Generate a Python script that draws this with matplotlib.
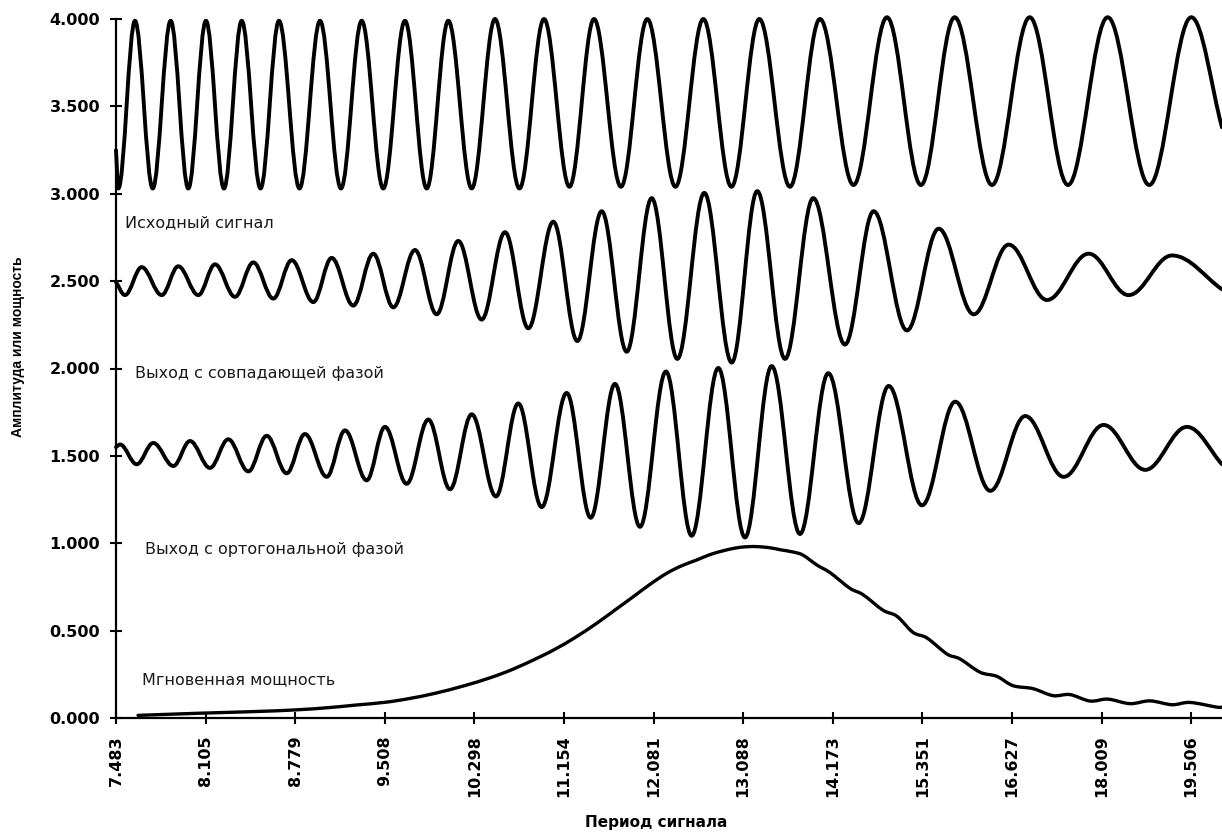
import matplotlib
matplotlib.use('Agg')
import matplotlib.pyplot as plt
from matplotlib.path import Path
from matplotlib.patches import PathPatch

# ---------------- data ----------------
# x positions are expressed in tick units along the period axis (tick k -> period_labels[k])
period_labels = ['7.483', '8.105', '8.779', '9.508', '10.298', '11.154', '12.081',
                 '13.088', '14.173', '15.351', '16.627', '18.009', '19.506']
y_ticks = [0.0, 0.5, 1.0, 1.5, 2.0, 2.5, 3.0, 3.5, 4.0]
y_tick_labels = ['0.000', '0.500', '1.000', '1.500', '2.000', '2.500', '3.000', '3.500', '4.000']

series_names = ['Исходный сигнал', 'Выход с совпадающей фазой',
                'Выход с ортогональной фазой', 'Мгновенная мощность']

# original signal: start, extrema (troughs/peaks), end
signal_x = [0.000, 0.026, 0.212, 0.410, 0.610, 0.807, 1.004, 1.205, 1.403, 1.613,
            1.819, 2.048, 2.277, 2.511, 2.742, 2.983, 3.225, 3.468, 3.709, 3.970,
            4.230, 4.503, 4.777, 5.061, 5.335, 5.636, 5.930, 6.244, 6.555, 6.869,
            7.180, 7.522, 7.857, 8.231, 8.605, 8.984, 9.360, 9.777, 10.198, 10.625,
            11.068, 11.532, 12.001, 12.344]
signal_y = [3.25, 3.03, 3.99, 3.03, 3.99, 3.03, 3.99, 3.03, 3.99, 3.03,
            3.99, 3.03, 3.99, 3.03, 3.99, 3.03, 3.99, 3.03, 3.99, 3.03,
            4.00, 3.03, 4.00, 3.04, 4.00, 3.04, 4.00, 3.04, 4.00, 3.04,
            4.00, 3.04, 4.00, 3.05, 4.01, 3.05, 4.01, 3.05, 4.01, 3.05,
            4.01, 3.05, 4.01, 3.38]

# in-phase output: start, extrema, end
inphase_x = [0.000, 0.100, 0.287, 0.510, 0.695, 0.919, 1.105, 1.328, 1.532, 1.756,
             1.961, 2.202, 2.407, 2.648, 2.871, 3.095, 3.337, 3.579, 3.820, 4.081,
             4.342, 4.602, 4.881, 5.149, 5.421, 5.700, 5.979, 6.265, 6.566, 6.872,
             7.157, 7.467, 7.782, 8.136, 8.456, 8.828, 9.182, 9.573, 9.963, 10.391,
             10.856, 11.302, 11.786, 12.344]
inphase_y = [2.495, 2.42, 2.58, 2.42, 2.585, 2.42, 2.596, 2.41, 2.607, 2.40,
             2.62, 2.38, 2.633, 2.36, 2.657, 2.35, 2.678, 2.31, 2.73, 2.28,
             2.78, 2.23, 2.84, 2.157, 2.90, 2.096, 2.975, 2.055, 3.005, 2.034,
             3.015, 2.055, 2.975, 2.137, 2.90, 2.218, 2.80, 2.31, 2.709, 2.392,
             2.657, 2.42, 2.647, 2.453]

# quadrature output: start, extrema, end
quad_x = [0.000, 0.045, 0.231, 0.416, 0.640, 0.826, 1.049, 1.253, 1.477, 1.682,
          1.905, 2.109, 2.352, 2.556, 2.798, 3.002, 3.244, 3.486, 3.728, 3.970,
          4.241, 4.490, 4.751, 5.030, 5.298, 5.569, 5.848, 6.138, 6.425, 6.722,
          7.020, 7.318, 7.634, 7.950, 8.289, 8.624, 8.996, 9.367, 9.758, 10.148,
          10.577, 11.023, 11.488, 11.953, 12.344]
quad_y = [1.55, 1.565, 1.452, 1.574, 1.442, 1.585, 1.431, 1.595, 1.411, 1.615,
          1.40, 1.625, 1.38, 1.646, 1.36, 1.666, 1.34, 1.708, 1.309, 1.738,
          1.268, 1.80, 1.207, 1.86, 1.146, 1.912, 1.094, 1.983, 1.043, 2.003,
          1.033, 2.014, 1.053, 1.973, 1.115, 1.90, 1.217, 1.81, 1.30, 1.728,
          1.38, 1.677, 1.42, 1.666, 1.452]

# instantaneous power
power_x = [0.246, 0.911, 1.496, 1.992, 2.388, 2.675, 3.007, 3.281, 3.558, 3.876,
           4.174, 4.434, 4.732, 4.919, 5.123, 5.365, 5.569, 5.773, 5.960, 6.146,
           6.317, 6.481, 6.629, 6.778, 6.908, 7.039, 7.188, 7.336, 7.411, 7.556,
           7.667, 7.824, 7.969, 8.192, 8.337, 8.560, 8.717, 8.895, 9.051, 9.275,
           9.420, 9.643, 9.833, 10.011, 10.234, 10.458, 10.647, 10.871, 11.071, 11.317,
           11.540, 11.786, 11.987, 12.288, 12.344]
power_y = [0.015, 0.027, 0.036, 0.046, 0.060, 0.074, 0.090, 0.112, 0.141, 0.183,
           0.230, 0.280, 0.350, 0.399, 0.460, 0.542, 0.618, 0.694, 0.765, 0.828,
           0.872, 0.904, 0.935, 0.957, 0.972, 0.980, 0.980, 0.971, 0.963, 0.950,
           0.932, 0.875, 0.832, 0.742, 0.706, 0.617, 0.582, 0.490, 0.458, 0.366,
           0.338, 0.262, 0.238, 0.185, 0.168, 0.128, 0.134, 0.097, 0.108, 0.082,
           0.098, 0.076, 0.089, 0.062, 0.063]

# ---------------- drawing ----------------
plt.rcParams['font.family'] = ['DejaVu Sans']

W, H = 1222, 836
fig = plt.figure(figsize=(W / 100, H / 100), dpi=100)
ax = fig.add_axes([116 / W, 1 - 718 / H, 1 - 116 / W, (718 - 19) / H])
ax.set_xlim(0, 12.344)
ax.set_ylim(0, 4.0)


def extrema_path(xs, ys):
    """Cubic Bezier path through the read extrema (horizontal tangents at
    interior extrema, chord tangents at the two free ends)."""
    K = 0.3634
    verts = [(xs[0], ys[0])]
    codes = [Path.MOVETO]
    n = len(xs)
    for i in range(n - 1):
        x0, y0, x1, y1 = xs[i], ys[i], xs[i + 1], ys[i + 1]
        dx, dy = x1 - x0, y1 - y0
        c1 = (x0 + dx / 3, y0 + dy / 3) if i == 0 else (x0 + K * dx, y0)
        c2 = (x1 - dx / 3, y1 - dy / 3) if i == n - 2 else (x1 - K * dx, y1)
        verts += [c1, c2, (x1, y1)]
        codes += [Path.CURVE4] * 3
    return Path(verts, codes)


def smooth_path(xs, ys):
    """Catmull-Rom style cubic Bezier path through the read points."""
    n = len(xs)
    verts = [(xs[0], ys[0])]
    codes = [Path.MOVETO]
    for i in range(n - 1):
        p0 = (xs[max(i - 1, 0)], ys[max(i - 1, 0)])
        p1 = (xs[i], ys[i])
        p2 = (xs[i + 1], ys[i + 1])
        p3 = (xs[min(i + 2, n - 1)], ys[min(i + 2, n - 1)])
        c1 = (p1[0] + (p2[0] - p0[0]) / 6, p1[1] + (p2[1] - p0[1]) / 6)
        c2 = (p2[0] - (p3[0] - p1[0]) / 6, p2[1] - (p3[1] - p1[1]) / 6)
        verts += [c1, c2, p2]
        codes += [Path.CURVE4] * 3
    return Path(verts, codes)


for xs, ys in [(signal_x, signal_y), (inphase_x, inphase_y), (quad_x, quad_y)]:
    ax.add_patch(PathPatch(extrema_path(xs, ys), facecolor='none', edgecolor='black',
                           lw=2.8, clip_on=False, capstyle='round', joinstyle='round'))

ax.add_patch(PathPatch(smooth_path(power_x, power_y), facecolor='none', edgecolor='black',
                       lw=2.4, clip_on=False, capstyle='round', joinstyle='round'))

# spines & ticks
for side in ['top', 'right']:
    ax.spines[side].set_visible(False)
for side in ['left', 'bottom']:
    ax.spines[side].set_linewidth(1.6)

ax.set_xticks(range(len(period_labels)))
ax.set_xticklabels(period_labels, rotation=90, fontweight='bold', fontsize=11.5)
ax.set_yticks(y_ticks)
ax.set_yticklabels(y_tick_labels, fontweight='bold', fontsize=11.5)
ax.tick_params(axis='both', direction='inout', length=8.6, width=1.5, colors='black')
ax.tick_params(axis='x', pad=8)
ax.tick_params(axis='y', pad=7)

# series captions
caption_pos = [(0.100, 2.834), (0.212, 1.974), (0.324, 0.967), (0.294, 0.217)]
for name, (tx, ty) in zip(series_names, caption_pos):
    ax.text(tx, ty, name, ha='left', va='center', fontsize=11.5, color='#1a1a1a')

fig.text(18 / W, 1 - 347 / H, 'Амплитуда или мощность', rotation=90,
         ha='center', va='center', fontfamily=['Liberation Sans', 'DejaVu Sans'],
         fontweight='bold', fontsize=10)
fig.text(656 / W, 1 - 823 / H, 'Период сигнала', ha='center', va='center',
         fontweight='bold', fontsize=11)

fig.savefig('out.png', dpi=100, facecolor='white')
